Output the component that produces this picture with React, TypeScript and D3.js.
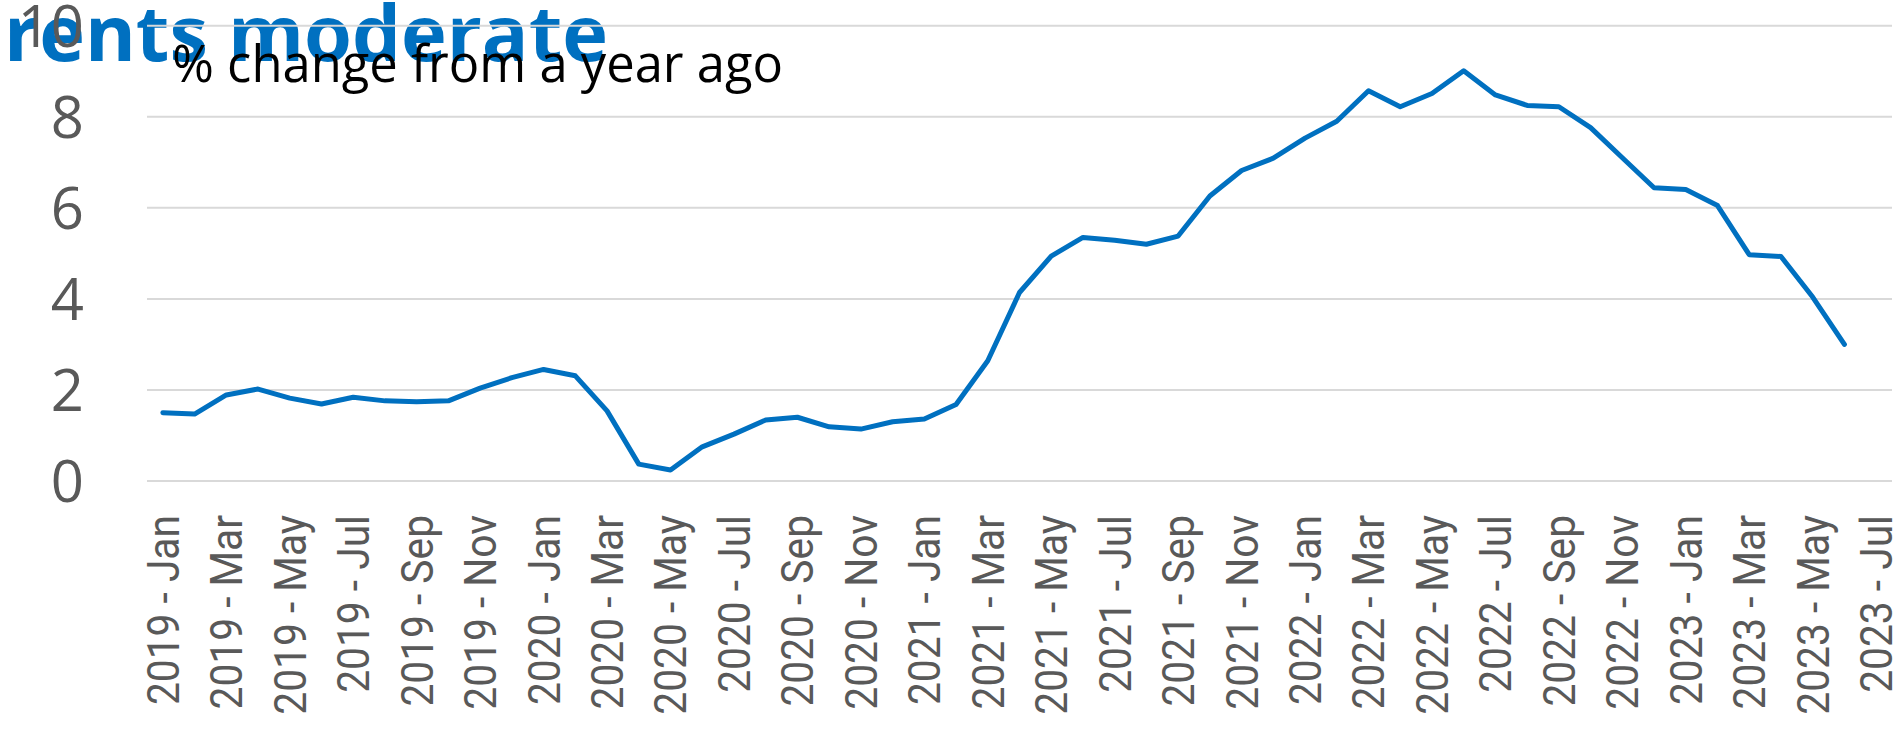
import React from "react";
import * as d3 from "d3";

const months = ["Jan","Feb","Mar","Apr","May","Jun","Jul","Aug","Sep","Oct","Nov","Dec"];
const years = [2019, 2020, 2021, 2022, 2023];
// categories Jan 2019 .. Jul 2023
const categories: string[] = [];
years.forEach((y) => months.forEach((m) => categories.push(`${y} - ${m}`)));
const cats = categories.slice(0, categories.indexOf("2023 - Jul") + 1);

const values = [
  1.50, 1.47, 1.89, 2.02, 1.82, 1.69, 1.84, 1.76, 1.74, 1.76, 2.04, 2.27,
  2.45, 2.31, 1.54, 0.37, 0.24, 0.75, 1.03, 1.34, 1.40, 1.19, 1.14, 1.30,
  1.36, 1.68, 2.64, 4.14, 4.94, 5.35, 5.29, 5.20, 5.38, 6.26, 6.82, 7.09,
  7.53, 7.90, 8.57, 8.22, 8.51, 9.01, 8.48, 8.25, 8.22, 7.76, 7.10, 6.44,
  6.40, 6.05, 4.97, 4.93, 4.04, 3.00,
];
const yTicks = [0, 2, 4, 6, 8, 10];
const title = "rents moderate";
const subtitle = "% change from a year ago";

export default function App() {
  const W = 1896, H = 735;
  const x = d3.scaleBand<string>().domain(cats).range([147, 1892]).padding(0);
  const y = d3.scaleLinear().domain([0, 10]).range([481, 25.7]);
  const cx = (c: string) => (x(c) as number) + x.bandwidth() / 2;
  const line = d3
    .line<number>()
    .x((_, i) => cx(cats[i]))
    .y((d) => y(d));
  const labelCats = cats.filter((_, i) => i % 2 === 0);
  return (
    <svg width={W} height={H} style={{ position: "absolute", left: 0, top: 0, background: "#fff" }}>
      <rect width={W} height={H} fill="#fff" />
      <text x={4} y={61} fontFamily="'Open Sans'" fontWeight={700} fontSize={77} fill="#0070C0"
        textLength={604} lengthAdjust="spacingAndGlyphs">{title}</text>
      <text x={172} y={82} fontFamily="'Open Sans'" fontSize={51} fill="#000"
        textLength={611} lengthAdjust="spacingAndGlyphs">{subtitle}</text>
      {yTicks.map((t) => (
        <line key={t} x1={147} x2={1892} y1={y(t)} y2={y(t)} stroke="#D9D9D9" strokeWidth={2} />
      ))}
      {yTicks.map((t) => (
        <text key={t} x={84} y={y(t)} dy="0.36em" textAnchor="end" fontFamily="'Open Sans'"
          fontSize={58} fill="#595959">{t}</text>
      ))}
      <path d={line(values) || ""} fill="none" stroke="#0070C0" strokeWidth={5}
        strokeLinejoin="round" strokeLinecap="round" />
      {labelCats.map((c) => (
        <text key={c} transform={`translate(${cx(c)},515) rotate(-90) scale(0.905,1)`}
          dy="0.355em" textAnchor="end" fontFamily="Roboto" fontSize={45} fill="#595959">{c}</text>
      ))}
    </svg>
  );
}
